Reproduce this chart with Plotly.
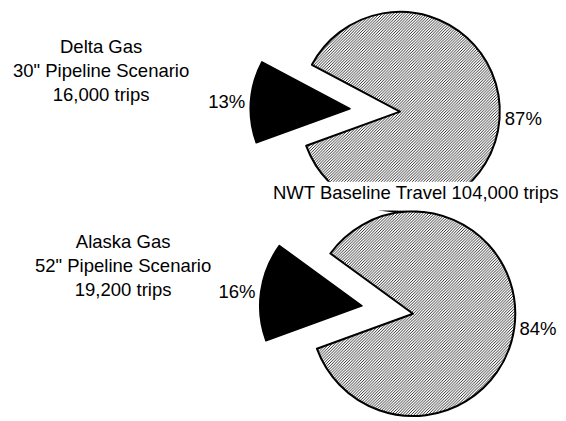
import plotly.graph_objects as go

# ---- data ----
slice_names = ["Pipeline scenario trips", "NWT baseline travel"]
delta_values = [16000, 104000]
alaska_values = [19200, 104000]
delta_title = ["Delta Gas", '30" Pipeline Scenario', "16,000 trips"]
alaska_title = ["Alaska Gas", '52" Pipeline Scenario', "19,200 trips"]
baseline_title = "NWT Baseline Travel 104,000 trips"

# ---- layout constants (pixels) ----
W, H = 566, 421
FONT = "Arial, Liberation Sans, sans-serif"
FS = 18.5
CLEAR = "rgba(0,0,0,0)"


def dom(cx, cy, r):
    return dict(x=[(cx - r) / W, (cx + r) / W],
                y=[max(0, 1 - (cy + r) / H), min(1, 1 - (cy - r) / H)])


def pie_pair(values, gray_c, black_c, r):
    common = dict(labels=slice_names, values=values, sort=False,
                  direction="clockwise", rotation=250, hoverinfo="skip",
                  showlegend=False,
                  textfont=dict(family=FONT, size=FS, color="black"),
                  outsidetextfont=dict(family=FONT, size=FS, color="black"))
    gray = go.Pie(
        **common,
        domain=dom(gray_c[0], gray_c[1], r),
        marker=dict(colors=[CLEAR, "white"],
                    line=dict(color=[CLEAR, "black"], width=[0, 2]),
                    pattern=dict(shape=["", "/"], fgcolor="black",
                                 bgcolor="white", size=2, solidity=0.4)),
        texttemplate=["", "%{percent:.0%}"],
        textposition=["none", "outside"],
    )
    black = go.Pie(
        **common,
        domain=dom(black_c[0], black_c[1], r),
        marker=dict(colors=["black", CLEAR],
                    line=dict(color=["black", CLEAR], width=[1.5, 0])),
        texttemplate=["%{percent:.0%}", ""],
        textposition=["outside", "none"],
    )
    return [gray, black]


fig = go.Figure()
for t in pie_pair(delta_values, (400, 113), (350, 110), 101):
    fig.add_trace(t)
for t in pie_pair(alaska_values, (413, 317.5), (362, 309.5), 103.5):
    fig.add_trace(t)

# mask hiding the lower part of the upper pie (as in the original layout)
fig.add_shape(type="rect", xref="paper", yref="paper",
              x0=285 / W, x1=1, y0=1 - 213 / H, y1=1 - 184 / H,
              fillcolor="white", line=dict(width=0), layer="above")

ann_font = dict(family=FONT, size=FS, color="black")
fig.add_annotation(x=100.5 / W, y=1 - 71 / H, xref="paper", yref="paper",
                   text="<br>".join(delta_title), showarrow=False,
                   xanchor="center", yanchor="middle", align="center", font=ann_font)
fig.add_annotation(x=123 / W, y=1 - 269 / H, xref="paper", yref="paper",
                   text="<br>".join(alaska_title), showarrow=False,
                   xanchor="center", yanchor="middle", align="center", font=ann_font)
fig.add_annotation(x=415.5 / W, y=1 - 195 / H, xref="paper", yref="paper",
                   text=baseline_title, showarrow=False,
                   xanchor="center", yanchor="middle", font=ann_font)

fig.update_layout(width=W, height=H, margin=dict(l=0, r=0, t=0, b=0),
                  paper_bgcolor="white", plot_bgcolor="white",
                  font=dict(family=FONT, size=FS, color="black"))

fig.write_html("out.html")
